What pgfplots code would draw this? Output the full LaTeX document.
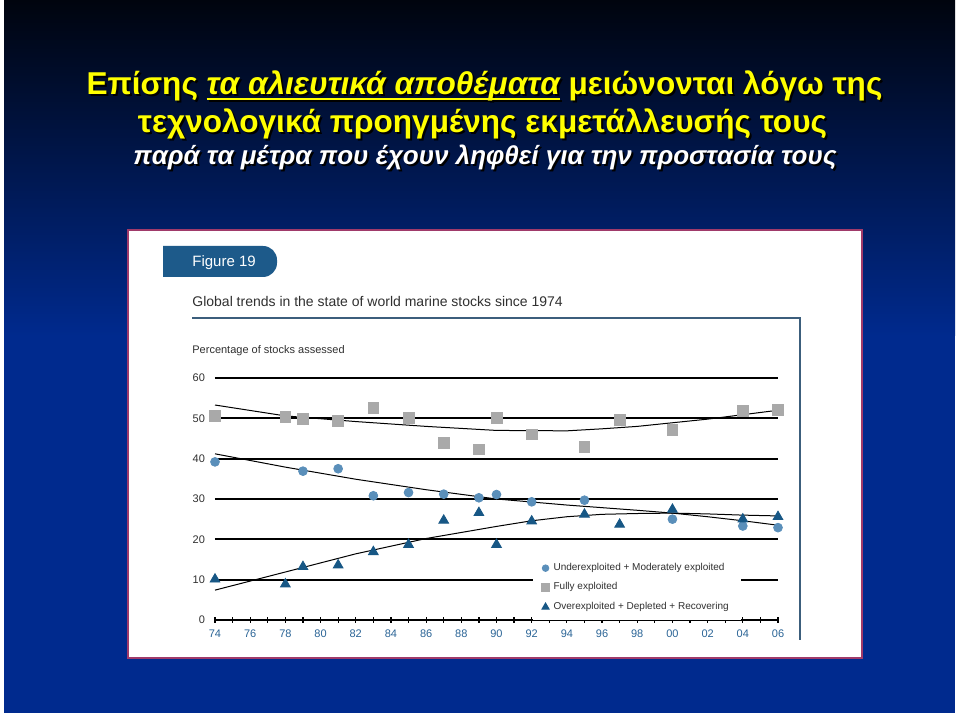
\documentclass[border=0pt]{standalone}
\usepackage{pgfplots}
\pgfplotsset{compat=1.18}
\usepackage{fontspec}
\setmainfont{Liberation Sans}
\definecolor{bgtop}{HTML}{00040E}
\definecolor{bgbot}{HTML}{002A8E}
\definecolor{ttl}{HTML}{FFFF00}
\definecolor{tabblue}{HTML}{1D5A8A}
\definecolor{frameblue}{HTML}{3C5E7C}
\definecolor{ltblue}{HTML}{5A8FBA}
\definecolor{dkblue}{HTML}{175785}
\definecolor{sqgray}{HTML}{A9A9A9}
\definecolor{ticklbl}{HTML}{2A6496}
\definecolor{panelborder}{HTML}{A03A6A}
\definecolor{txtgray}{HTML}{303030}
\newcommand\ul[1]{\setbox0\hbox{#1}\rlap{\rule[-2.4pt]{\wd0}{0.9pt}}\box0\relax}
\newcommand\sh[4]{%
  \node[anchor=base,inner sep=0pt,text=black] at (#1+2,#2-2) {#4};
  \node[anchor=base,inner sep=0pt,text=#3] at (#1,#2) {#4};}
\begin{document}
\begin{tikzpicture}[x=0.5pt,y=0.5pt]
\fill[white] (0,0) rectangle (960,716);
\fill[bgbot] (4,3) rectangle (955,716);
\shade[top color=bgtop,bottom color=bgbot] (4,380) rectangle (955,716);
% titles
\sh{484.5}{621}{ttl}{\fontsize{15.8}{18}\selectfont\bfseries Επίσης \ul{\itshape τα αλιευτικά αποθέματα} μειώνονται λόγω της}
\sh{482.5}{583}{ttl}{\fontsize{15.8}{18}\selectfont\bfseries τεχνολογικά προηγμένης εκμετάλλευσής τους}
\sh{485}{551}{white}{\fontsize{13}{16}\selectfont\bfseries\itshape παρά τα μέτρα που έχουν ληφθεί για την προστασία τους}
% panel
\filldraw[fill=white,draw=panelborder,line width=0.6pt] (128,58) rectangle (862,486);
\fill[tabblue] (163,439) -- (163,470) [rounded corners=7pt] -- (277,470) -- (277,439) [sharp corners] -- cycle;
\node[anchor=base west,inner sep=0pt,text=white] at (192,449) {\fontsize{7.5}{9}\selectfont Figure 19};
\node[anchor=base west,inner sep=0pt,text=txtgray] at (192,409) {\fontsize{7}{8}\selectfont Global trends in the state of world marine stocks since 1974};
\draw[frameblue,line width=1pt] (192,398) -- (800,398) -- (800,76);
\node[anchor=base west,inner sep=0pt,text=txtgray] at (192,362) {\fontsize{5.5}{6}\selectfont Percentage of stocks assessed};
\begin{axis}[
  at={(107.5pt,48pt)}, anchor=south west, scale only axis,
  width=281.5pt, height=121pt,
  xmin=74, xmax=106, ymin=0, ymax=60,
  axis lines*=left,
  y axis line style={draw=none},
  x axis line style={black,line width=0.8pt},
  ytick={10,20,...,60}, extra y ticks={0}, extra y tick style={grid=none},
  ymajorgrids, major grid style={black,line width=0.85pt},
  y tick style={draw=none},
  xtick={74,76,...,106},
  xticklabels={74,76,78,80,82,84,86,88,90,92,94,96,98,00,02,04,06},
  minor x tick num=1,
  x tick style={black,line width=0.6pt},
  tick align=center, major tick length=3pt, minor tick length=3pt,
  tick label style={font=\fontsize{5.5}{6}\selectfont},
  x tick label style={text=ticklbl},
  y tick label style={text=txtgray},
  /pgf/number format/assume math mode=true,
  clip=false,
  legend style={at={(0.565,0.27)},anchor=north west,fill=white,draw=none,
    font=\fontsize{5}{6}\selectfont,text=txtgray,row sep=0.6pt,inner xsep=4pt},
  legend cell align=left,
  legend image post style={scale=0.75},
]
\addplot[forget plot,black,line width=0.5pt] coordinates {(74,53.3)(78,50.6)(82,49.2)(86,48.0)(90,47.0)(94,46.9)(96,47.4)(98,48.0)(100,48.9)(102,49.8)(104,50.9)(106,52.0)};
\addplot[forget plot,black,line width=0.5pt] coordinates {(74,41.2)(78,37.9)(82,34.9)(86,32.3)(90,30.0)(94,28.5)(98,27.2)(100,26.5)(102,25.6)(104,24.6)(106,23.5)};
\addplot[forget plot,black,line width=0.5pt] coordinates {(74,7.4)(78,11.9)(82,16.4)(86,20.2)(90,23.2)(92,24.6)(94,25.6)(96,26.2)(98,26.4)(100,26.5)(102,26.3)(104,26.0)(106,25.8)};
\addplot[only marks,mark=*,mark size=2.2pt,color=ltblue] coordinates {(74,39.2)(79,36.9)(81,37.5)(83,30.8)(85,31.6)(87,31.2)(89,30.3)(90,31.1)(92,29.3)(95,29.7)(100,25.0)(104,23.3)(106,22.9)};
\addlegendentry{Underexploited + Moderately exploited}
\addplot[only marks,mark=square*,mark size=2.7pt,color=sqgray] coordinates {(74,50.7)(78,50.3)(79,49.9)(81,49.3)(83,52.5)(85,50.1)(87,43.9)(89,42.3)(90,50.1)(92,46.0)(95,43.0)(97,49.7)(100,47.2)(104,51.8)(106,52.1)};
\addlegendentry{Fully exploited}
\addplot[only marks,mark=triangle*,mark size=2.8pt,color=dkblue] coordinates {(74,10.1)(78,8.9)(79,13.2)(81,13.6)(83,16.9)(85,18.7)(87,24.7)(89,26.6)(90,18.7)(92,24.5)(95,26.2)(97,23.7)(100,27.4)(104,25.0)(106,25.6)};
\addlegendentry{Overexploited + Depleted + Recovering}
\end{axis}
\end{tikzpicture}
\end{document}
